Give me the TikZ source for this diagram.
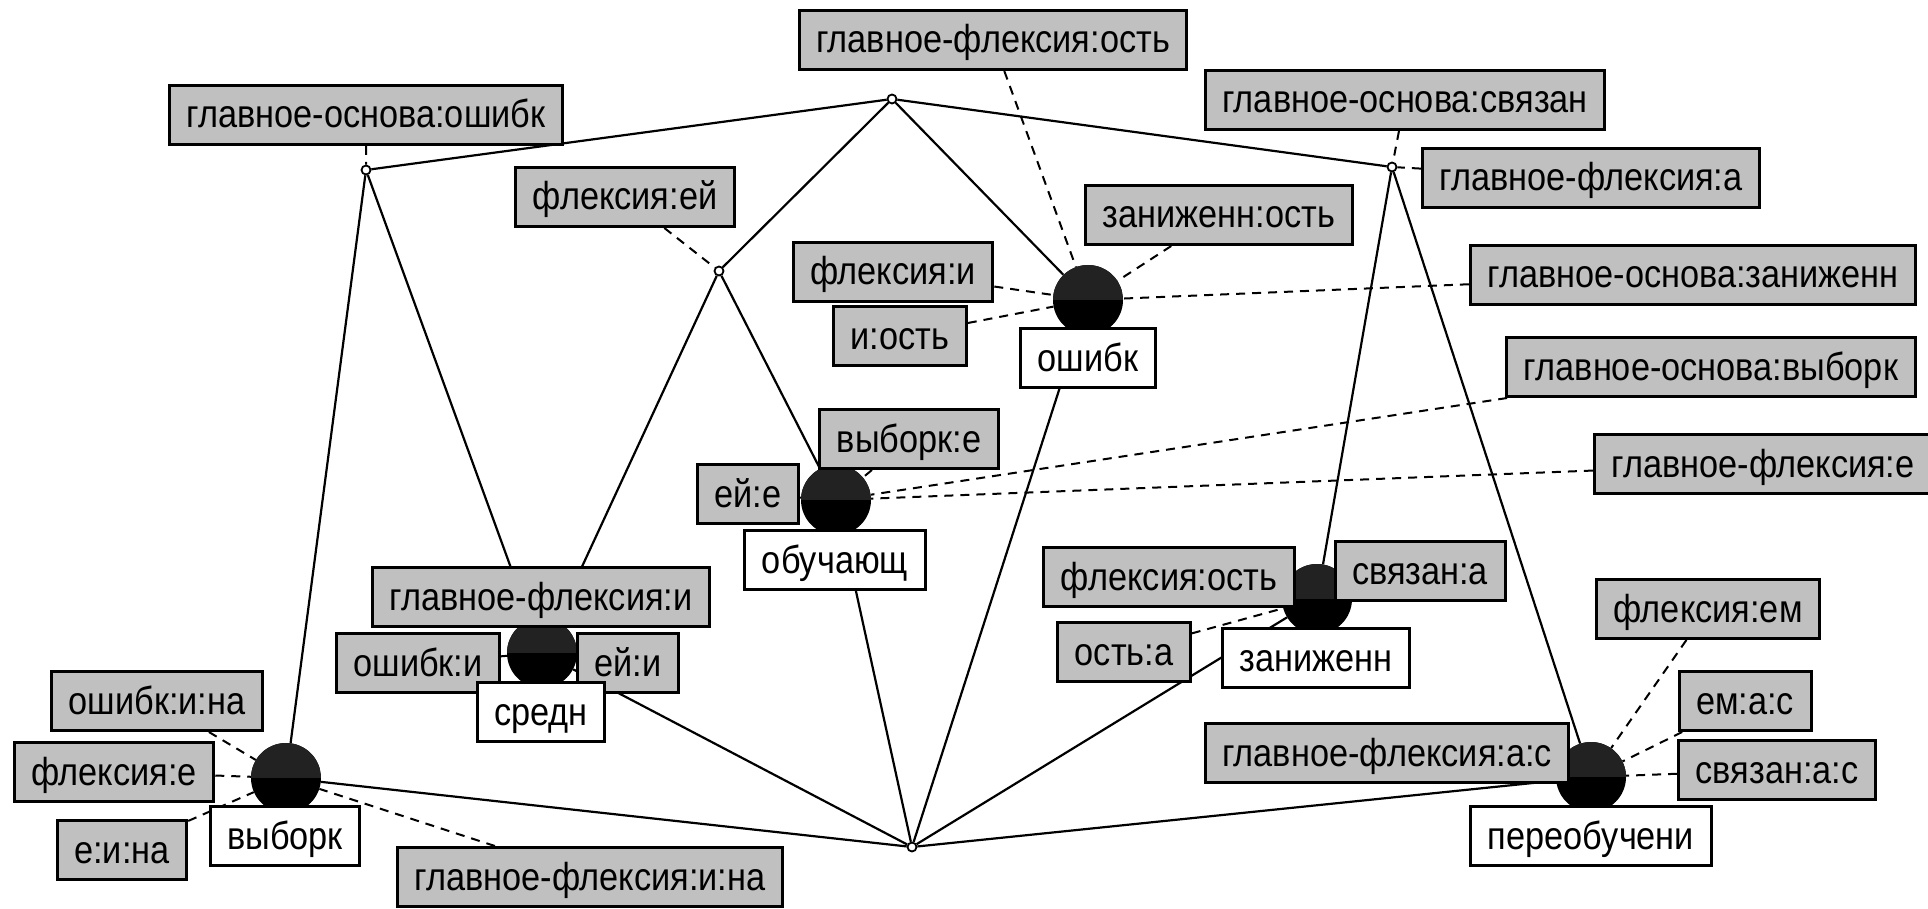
\documentclass[tikz,border=0pt]{standalone}
\usepackage{fontspec}
\setmainfont{Liberation Sans}[FakeStretch=0.88]
\pgfdeclarelayer{back}
\pgfdeclarelayer{bg}
\pgfsetlayers{back,bg,main}
\definecolor{boxgray}{RGB}{192,192,192}
\definecolor{tophalf}{RGB}{34,34,34}
\tikzset{
  lbl/.style={draw, line width=3pt, fill=boxgray, inner xsep=17pt, inner ysep=0pt,
    minimum height=59pt, text height=26pt, text depth=0pt,
    font=\fontsize{39pt}{41pt}\selectfont},
  wlbl/.style={lbl, fill=white},
  word/.style={circle, inner sep=0pt, minimum size=70pt, fill=black,
    path picture={\fill[tophalf] (path picture bounding box.west) rectangle (path picture bounding box.north east);}},
  hub/.style={circle, inner sep=0pt, minimum size=9pt, draw, line width=1.8pt, fill=white},
  edge/.style={line width=2.2pt},
  dedge/.style={line width=2pt, dash pattern=on 9pt off 7pt},
}
\begin{document}
\begin{tikzpicture}[x=1pt,y=-1pt]
\begin{pgfonlayer}{back}
\fill[white] (0,0) rectangle (1928,909);
\end{pgfonlayer}
\useasboundingbox (0,0) rectangle (1928,909);
% word circles
\node[word] (w1) at (1088,300) {};
\node[word] (w2) at (836,500) {};
\node[word] (w3) at (1317,599) {};
\node[word] (w4) at (542,653) {};
\node[word] (w5) at (286,778) {};
\node[word] (w6) at (1591,777) {};
% hubs
\node[hub] (A) at (366,170) {};
\node[hub] (B) at (892,99) {};
\node[hub] (C) at (1392,167) {};
\node[hub] (D) at (719,271) {};
\node[hub] (E) at (912,847) {};
% labels
\node[lbl] (l1) at (366,115) {главное-основа:ошибк};
\node[lbl] (l2) at (993,40) {главное-флексия:ость};
\node[lbl] (l3) at (1405,100) {главное-основа:связан};
\node[lbl] (l4) at (1591,178) {главное-флексия:а};
\node[lbl] (l5) at (1693,275) {главное-основа:заниженн};
\node[lbl] (l6) at (1711,367) {главное-основа:выборк};
\node[lbl] (l7) at (1763,464) {главное-флексия:е};
\node[lbl] (l8) at (625,197) {флексия:ей};
\node[lbl] (l9) at (1219,215) {заниженн:ость};
\node[lbl] (l10) at (893,272) {флексия:и};
\node[lbl] (l11) at (900,336) {и:ость};
\node[lbl] (l12) at (909,439) {выборк:е};
\node[lbl] (l13) at (748,494) {ей:е};
\node[lbl] (l15) at (1169,577) {флексия:ость};
\node[lbl] (l16) at (1124,652) {ость:а};
\node[lbl] (l18) at (1420,571) {связан:а};
\node[lbl] (l19) at (1708,609) {флексия:ем};
\node[lbl] (l20) at (1745,701) {ем:а:с};
\node[lbl] (l21) at (1777,770) {связан:а:с};
\node[lbl] (l22) at (1387,753) {главное-флексия:а:с};
\node[lbl] (l24) at (541,597) {главное-флексия:и};
\node[lbl] (l25) at (418,663) {ошибк:и};
\node[lbl] (l26) at (628,663) {ей:и};
\node[lbl] (l28) at (157,701) {ошибк:и:на};
\node[lbl] (l29) at (114,772) {флексия:е};
\node[lbl] (l30) at (122,850) {е:и:на};
\node[lbl] (l32) at (590,877) {главное-флексия:и:на};
% word names
\node[wlbl] (n1) at (1088,358) {ошибк};
\node[wlbl] (n2) at (835,560) {обучающ};
\node[wlbl] (n3) at (1316,658) {заниженн};
\node[wlbl] (n4) at (541,712) {средн};
\node[wlbl] (n5) at (285,836) {выборк};
\node[wlbl] (n6) at (1591,836) {переобучени};
\begin{pgfonlayer}{bg}
\draw[edge] (A)--(B) (B)--(C) (A)--(w5) (A)--(w4) (B)--(D) (D)--(w4) (D)--(w2)
  (B)--(w1) (C)--(w3) (C)--(w6) (E)--(w5) (E)--(w4) (E)--(w2) (E)--(w1) (E)--(w3) (E)--(w6);
\draw[dedge] (l1)--(A) (l3)--(C) (l4)--(C) (l8)--(D)
  (l2)--(w1) (l9)--(w1) (l10)--(w1) (l11)--(w1) (l5)--(w1)
  (l6)--(w2) (l7)--(w2) (l12)--(w2) (l13)--(w2)
  (l15)--(w3) (l18)--(w3) (l16)--(w3)
  (l24)--(w4) (l25)--(w4) (l26)--(w4)
  (l28)--(w5) (l29)--(w5) (l30)--(w5) (l32)--(w5)
  (l19)--(w6) (l20)--(w6) (l21)--(w6) (l22)--(w6);
\end{pgfonlayer}
\end{tikzpicture}
\end{document}
